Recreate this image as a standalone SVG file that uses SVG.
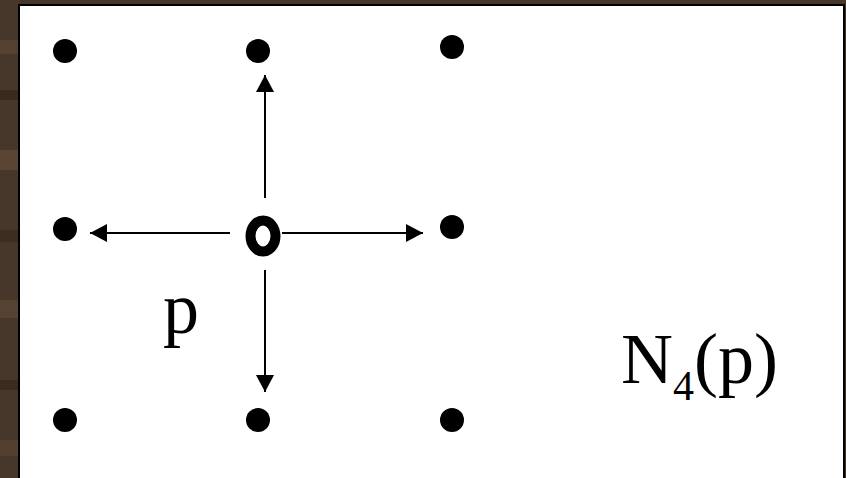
<svg xmlns="http://www.w3.org/2000/svg" width="846" height="478" viewBox="0 0 846 478">
<defs>
<style>
.dot{fill:#000}
.conn line{stroke:#000;stroke-width:2}
.t{fill:#000}
</style>
<marker id="ah" viewBox="0 0 17 18" refX="17" refY="9" markerWidth="17" markerHeight="18" markerUnits="userSpaceOnUse" orient="auto">
<path d="M0,0 L17,9 L0,18 Z" fill="#000"/>
</marker>
</defs>
<g id="background">
<rect x="0" y="0" width="846" height="478" fill="#47362a"/>
<rect x="0" y="40" width="18" height="14" fill="#54412f"/>
<rect x="0" y="90" width="18" height="10" fill="#3a2a1e"/>
<rect x="0" y="150" width="18" height="20" fill="#5a4533"/>
<rect x="0" y="230" width="18" height="12" fill="#3d2d20"/>
<rect x="0" y="300" width="18" height="18" fill="#564230"/>
<rect x="0" y="380" width="18" height="10" fill="#3b2b1f"/>
<rect x="0" y="440" width="18" height="16" fill="#533f2e"/>
<rect x="19" y="5" width="825" height="480" fill="#fff" stroke="#000" stroke-width="2"/>
</g>
<g id="dots">
<circle id="n00" class="dot" cx="65" cy="51" r="12"/>
<circle id="n01" class="dot" cx="258" cy="51" r="12"/>
<circle id="n02" class="dot" cx="452" cy="47" r="12"/>
<circle id="n10" class="dot" cx="65" cy="229" r="12"/>
<circle id="n12" class="dot" cx="452" cy="227" r="12"/>
<circle id="n20" class="dot" cx="65" cy="420" r="12"/>
<circle id="n21" class="dot" cx="258" cy="420" r="12"/>
<circle id="n22" class="dot" cx="452" cy="420" r="12"/>
</g>
<g id="center">
<ellipse cx="263" cy="236" rx="12.5" ry="15.5" fill="none" stroke="#000" stroke-width="10"/>
</g>
<g id="connectors" class="conn">
<line x1="230" y1="233" x2="90" y2="233" marker-end="url(#ah)"/>
<line x1="282" y1="233" x2="423" y2="233" marker-end="url(#ah)"/>
<line x1="265" y1="198" x2="265" y2="75" marker-end="url(#ah)"/>
<line x1="265" y1="270" x2="265" y2="392" marker-end="url(#ah)"/>
</g>
<g id="labels" font-family="'Liberation Serif', 'Times New Roman', Times, serif">
<text class="t" x="163" y="333" font-size="72">p</text>
<text class="t" x="621" y="383" font-size="72">N<tspan font-size="42" y="400">4</tspan><tspan y="383">(p)</tspan></text>
</g>
</svg>
